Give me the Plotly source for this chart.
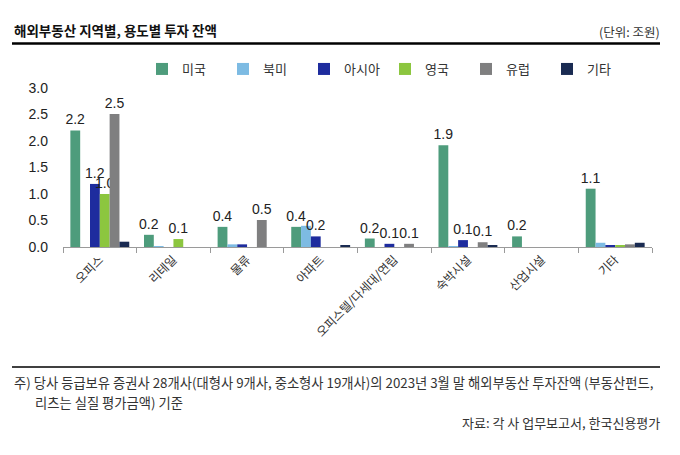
import plotly.graph_objects as go

categories = ["오피스", "리테일", "물류", "아파트", "오피스텔/다세대/연립", "숙박시설", "산업시설", "기타"]
series_names = ["미국", "북미", "아시아", "영국", "유럽", "기타"]
us = [2.2, 0.23, 0.38, 0.38, 0.16, 1.92, 0.2, 1.1]
na = [0.0, 0.01, 0.05, 0.40, 0.0, 0.01, 0.0, 0.08]
asia = [1.19, 0.0, 0.05, 0.2, 0.06, 0.13, 0.0, 0.03]
uk = [1.0, 0.15, 0.0, 0.0, 0.0, 0.0, 0.0, 0.03]
eu = [2.51, 0.0, 0.51, 0.0, 0.06, 0.09, 0.0, 0.05]
etc = [0.1, 0.0, 0.0, 0.03, 0.0, 0.02, 0.0, 0.08]
# labels shown in the original chart ("" = no label)
us_lbl = ["2.2", "0.2", "0.4", "0.4", "0.2", "1.9", "0.2", "1.1"]
na_lbl = ["", "", "", "", "", "", "", ""]
asia_lbl = ["1.2", "", "", "0.2", "0.1", "0.1", "", ""]
uk_lbl = ["1.0", "0.1", "", "", "", "", "", ""]
eu_lbl = ["2.5", "", "0.5", "", "0.1", "0.1", "", ""]
etc_lbl = ["", "", "", "", "", "", "", ""]

values = [us, na, asia, uk, eu, etc]
labels = [us_lbl, na_lbl, asia_lbl, uk_lbl, eu_lbl, etc_lbl]
colors = ["#4E9C7C", "#7DBBE3", "#1E2C9E", "#8CC63F", "#7F7F80", "#1A2B52"]

FONT = "Noto Sans CJK KR, Liberation Sans, Arial, sans-serif"
NUMFONT = "Liberation Sans, Arial, sans-serif"

fig = go.Figure()
for name, v, t, c in zip(series_names, values, labels, colors):
    fig.add_trace(go.Bar(
        name=name, x=categories, y=v, marker_color=c, marker_line_width=0,
        text=t, textposition="outside", cliponaxis=False, constraintext="none",
        textfont=dict(size=14, color="#222222", family=NUMFONT),
        hoverinfo="x+y+name",
    ))

OFF = 8  # page body margin
W, H = 680 - OFF, 455 - OFF
L, R, T, B = 63 - OFF, 28, 88 - OFF, 208
PW = W - L - R
PH = H - T - B

def px(x):
    return (x - OFF - L) / PW

def py(y):
    return (H - B - (y - OFF)) / PH

fig.update_layout(
    width=W, height=H,
    margin=dict(l=L, r=R, t=T, b=B, pad=0, autoexpand=False),
    paper_bgcolor="white", plot_bgcolor="white",
    barmode="group", bargap=0.2, bargroupgap=0,
    font=dict(family=FONT, color="#222222"),
    showlegend=True,
    legend=dict(orientation="h", x=px(142), y=py(69), xanchor="left", yanchor="middle",
                font=dict(size=13, family=FONT, color="#333333"),
                itemwidth=30, entrywidth=36, tracegroupgap=0, bgcolor="rgba(0,0,0,0)"),
    xaxis=dict(showline=True, linecolor="#9a9a9a", linewidth=1, ticks="outside",
               tickson="boundaries", ticklen=5, tickcolor="#9a9a9a", tickangle=-45,
               tickfont=dict(size=12, family=FONT, color="#333333"), showgrid=False),
    yaxis=dict(range=[0, 3.0], dtick=0.5, tickformat=".1f", showgrid=False, zeroline=False,
               showline=False, ticks="", ticklabelstandoff=14,
               tickfont=dict(size=14, family=NUMFONT, color="#222222")),
    shapes=[
        dict(type="line", xref="paper", yref="paper", x0=px(12), x1=px(660), y0=py(43.5), y1=py(43.5),
             line=dict(color="black", width=2.5)),
        dict(type="line", xref="paper", yref="paper", x0=px(12), x1=px(660), y0=py(367), y1=py(367),
             line=dict(color="black", width=1.3)),
    ],
    annotations=[
        dict(text="<b>해외부동산 지역별, 용도별 투자 잔액</b>", xref="paper", yref="paper",
             x=px(12), y=py(30), xanchor="left", yanchor="middle", showarrow=False,
             font=dict(size=13.5, family=FONT, color="#111111")),
        dict(text="(단위: 조원)", xref="paper", yref="paper",
             x=px(662), y=py(31), xanchor="right", yanchor="middle", showarrow=False,
             font=dict(size=12.5, family=FONT, color="#333333")),
        dict(text="주) 당사 등급보유 증권사 28개사(대형사 9개사, 중소형사 19개사)의 2023년 3월 말 해외부동산 투자잔액 (부동산펀드,",
             xref="paper", yref="paper", x=px(12), y=py(382), xanchor="left", yanchor="middle",
             showarrow=False, font=dict(size=13.3, family=FONT, color="#333333")),
        dict(text="리츠는 실질 평가금액) 기준",
             xref="paper", yref="paper", x=px(33), y=py(402), xanchor="left", yanchor="middle",
             showarrow=False, font=dict(size=13.3, family=FONT, color="#333333")),
        dict(text="자료: 각 사 업무보고서, 한국신용평가",
             xref="paper", yref="paper", x=px(662), y=py(423), xanchor="right", yanchor="middle",
             showarrow=False, font=dict(size=13, family=FONT, color="#333333")),
    ],
)

fig.write_html("out.html")
